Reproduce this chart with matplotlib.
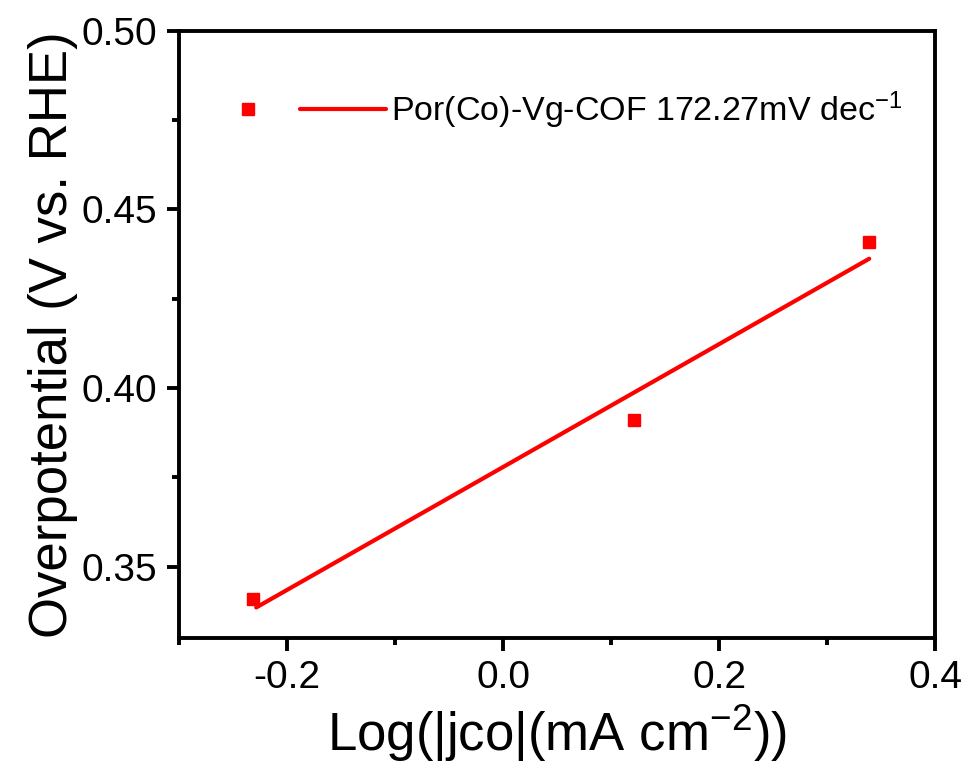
import numpy as np
import matplotlib
matplotlib.use("Agg")
import matplotlib.pyplot as plt
from matplotlib.legend_handler import HandlerTuple
from matplotlib.ticker import MultipleLocator

plt.rcParams['font.family'] = ['Liberation Sans', 'DejaVu Sans']
plt.rcParams['mathtext.fontset'] = 'custom'
plt.rcParams['mathtext.rm'] = 'Liberation Sans'
plt.rcParams['mathtext.it'] = 'Liberation Sans:italic'
plt.rcParams['mathtext.bf'] = 'Liberation Sans:bold'

# Tafel data
log_j = [-0.2315, 0.1213, 0.339]
overpotential = [0.341, 0.391, 0.441]
series_label = "Por(Co)-Vg-COF 172.27mV dec$^{\\mathregular{-1}}$"

fig = plt.figure(figsize=(9.65, 7.73), dpi=100)
ax = fig.add_axes([0.1855, 0.1746, 0.7835, 0.7854])

red = '#FF0000'
pts, = ax.plot(log_j, overpotential, linestyle='none', marker='s',
               markersize=9, color=red)

slope, intercept = np.polyfit(log_j, overpotential, 1)
xfit = np.array([log_j[0] + 0.003, log_j[-1]])
fit_line, = ax.plot(xfit, slope * xfit + intercept, color=red, linewidth=3.0,
                    solid_capstyle='round')

ax.set_xlim(-0.3, 0.4)
ax.set_ylim(0.33, 0.50)
ax.xaxis.set_minor_locator(MultipleLocator(0.1))
ax.yaxis.set_minor_locator(MultipleLocator(0.025))
ax.set_xticks([-0.2, 0.0, 0.2, 0.4])
ax.set_xticklabels(['-0.2', '0.0', '0.2', '0.4'])
ax.set_yticks([0.35, 0.40, 0.45, 0.50])
ax.set_yticklabels(['0.35', '0.40', '0.45', '0.50'])

for s in ax.spines.values():
    s.set_linewidth(2.8)
ax.tick_params(which='major', direction='out', length=9, width=2.8,
               labelsize=28)
ax.tick_params(axis='y', which='major', pad=7)
ax.tick_params(axis='x', which='major', pad=7)
ax.tick_params(which='minor', direction='out', length=5, width=2.8)
ax.tick_params(top=False, right=False, which='both')

ax.set_xlabel("Log(|jco|(mA cm$^{\\mathregular{-2}}$))", fontsize=38, labelpad=5)
ax.set_ylabel("Overpotential (V vs. RHE)", fontsize=38, labelpad=2)

leg = ax.legend([(pts, fit_line)], [series_label],
                handler_map={tuple: HandlerTuple(ndivide=None, pad=0.285)},
                loc='center left', bbox_to_anchor=(0.017, 0.87),
                fontsize=24.5, frameon=False, handlelength=5.3,
                handletextpad=0.15, borderaxespad=0)

fig.savefig("out.png", dpi=100)
